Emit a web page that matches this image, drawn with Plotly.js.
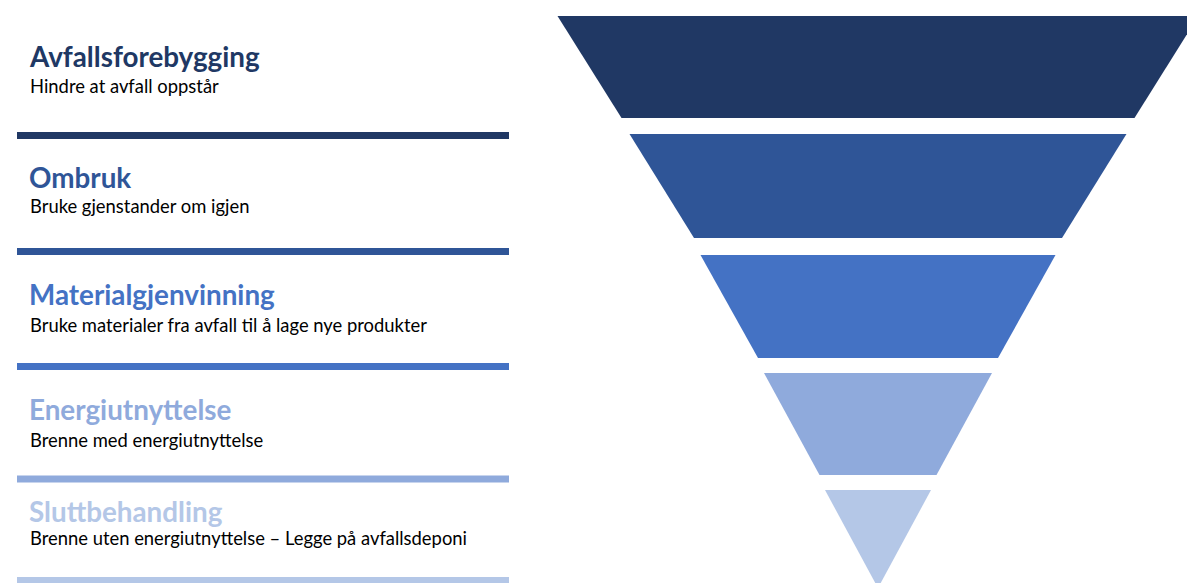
<!DOCTYPE html>
<html>
<head>
<meta charset="utf-8">
<script src="https://cdn.plot.ly/plotly-3.0.1.min.js"></script>
<style>
  html, body { margin: 0; padding: 0; background: #ffffff; overflow: hidden; }
  #chart { width: 1187px; height: 583px; }
</style>
</head>
<body>
<div id="chart"></div>
<script>
// ---- Data ----
const levels = ['Avfallsforebygging', 'Ombruk', 'Materialgjenvinning', 'Energiutnyttelse', 'Sluttbehandling'];
const descriptions = [
  'Hindre at avfall oppstår',
  'Bruke gjenstander om igjen',
  'Bruke materialer fra avfall til å lage nye produkter',
  'Brenne med energiutnyttelse',
  'Brenne uten energiutnyttelse – Legge på avfallsdeponi'
];
// width of each pyramid band at its top and bottom edge
const topWidth = [641, 497, 355, 228, 106];
const bottomWidth = [513, 368, 240, 117, 0];

// ---- Styles ----
const colors = ['#203864', '#2F5597', '#4472C4', '#8FAADC', '#B4C7E7'];
const centerX = 878;
const bandTops = [16, 134, 255, 373, 490];
const bandBottoms = [118, 238, 358, 475, 588];

const titleBaselines = [67, 188, 305, 420, 522];
const descBaselines = [93.5, 213.5, 332.5, 447.5, 545.5];
const lineYs = [135.5, 251.5, 366.5, 479, 580.5];

const traces = levels.map((name, i) => ({
  type: 'scatter',
  mode: 'lines',
  name: name,
  x: [centerX - topWidth[i] / 2, centerX + topWidth[i] / 2, centerX + bottomWidth[i] / 2, centerX - bottomWidth[i] / 2, centerX - topWidth[i] / 2],
  y: [bandTops[i], bandTops[i], bandBottoms[i], bandBottoms[i], bandTops[i]],
  fill: 'toself',
  fillcolor: colors[i],
  line: { width: 0, color: colors[i] },
  hoverinfo: 'skip'
}));

const annotations = [];
const shapes = [];
levels.forEach((name, i) => {
  annotations.push({
    x: 27, y: titleBaselines[i] - 10.7, xref: 'x', yref: 'y',
    xanchor: 'left', yanchor: 'middle', showarrow: false,
    text: '<b>' + name + '</b>',
    font: { family: 'Lato, "Open Sans", sans-serif', size: 27.8, color: colors[i] }
  });
  annotations.push({
    x: 28, y: descBaselines[i] - 7.1, xref: 'x', yref: 'y',
    xanchor: 'left', yanchor: 'middle', showarrow: false,
    text: descriptions[i],
    font: { family: 'Lato, "Open Sans", sans-serif', size: 18.4, color: '#000000' }
  });
  shapes.push({
    type: 'line', xref: 'x', yref: 'y',
    x0: 17, x1: 509, y0: lineYs[i], y1: lineYs[i],
    line: { color: colors[i], width: 7 }
  });
});

const layout = {
  width: 1187,
  height: 583,
  margin: { l: 0, r: 0, t: 0, b: 0, pad: 0 },
  paper_bgcolor: '#ffffff',
  plot_bgcolor: '#ffffff',
  showlegend: false,
  xaxis: { range: [0, 1187], visible: false, fixedrange: true },
  yaxis: { range: [583, 0], visible: false, fixedrange: true },
  annotations: annotations,
  shapes: shapes,
  hovermode: false
};

Plotly.newPlot('chart', traces, layout, { displayModeBar: false, staticPlot: true });
</script>
</body>
</html>
